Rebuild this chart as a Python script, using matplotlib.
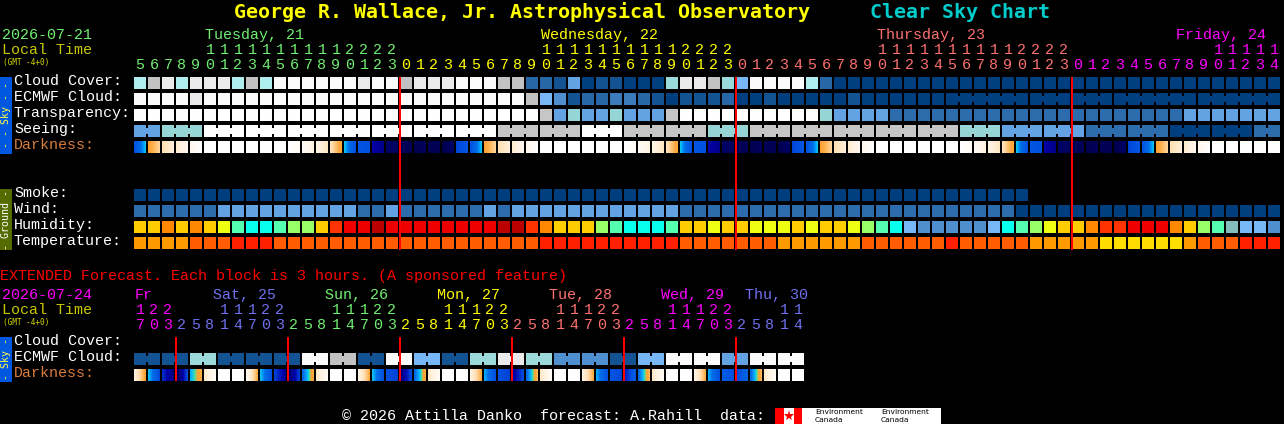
import numpy as np
import matplotlib
matplotlib.use('Agg')
import matplotlib.pyplot as plt
from matplotlib.colors import LinearSegmentedColormap

plt.rcParams['font.family'] = ['Liberation Mono', 'DejaVu Sans Mono']

# colour scales
cloud_colors = ['#003F7F', '#135393', '#2767A7', '#3B7BBB', '#4F8FCF', '#63A3E3',
                '#77B7F7', '#9ADADA', '#AEEEEE', '#C2C2C2', '#EAEAEA', '#FBFBFB']
sky_colors = ['#003F7F', '#2C6CAC', '#63A3E3', '#95D5D5', '#C6C6C6', '#FEFEFE']
wind_colors = ['#003F7F', '#2C6CAC', '#63A3E3']
hum_colors = ['#08FFEE', '#55FFB0', '#99FF66', '#EEFF11', '#FFCC00', '#FF8800', '#FF3300',
              '#EE0000', '#BB0000', '#4F8FCF', '#77B7F7', '#85BDBD']
temp_colors = ['#FFDD00', '#FF9900', '#FF5B00', '#FF2000']

# 82 hourly blocks, tuesday 05h to friday 14h
hours = [5, 6, 7, 8, 9, 10, 11, 12, 13, 14, 15, 16, 17, 18, 19, 20, 21, 22, 23,
         0, 1, 2, 3, 4, 5, 6, 7, 8, 9, 10, 11, 12, 13, 14, 15, 16, 17, 18, 19, 20, 21, 22, 23,
         0, 1, 2, 3, 4, 5, 6, 7, 8, 9, 10, 11, 12, 13, 14, 15, 16, 17, 18, 19, 20, 21, 22, 23,
         0, 1, 2, 3, 4, 5, 6, 7, 8, 9, 10, 11, 12, 13, 14]
day_runs = [19, 24, 24, 15]
day_cols = ['#70F070', '#FFFF00', '#FF7070', '#FF00FF']
day_names = ['Tuesday, 21', 'Wednesday, 22', 'Thursday, 23', 'Friday, 24']
day_name_cells = [5, 29, 53, 74]

cloud_cover = [8, 9, 10, 8, 10, 10, 10, 8, 9, 8, 11, 11, 11, 11, 11, 11, 10, 11, 11, 9, 10,
               10, 10, 11, 11, 11, 9, 9, 2, 2, 1, 5, 0, 1, 1, 0, 0, 0, 7, 10, 10, 9, 7,
               6, 11, 11, 11, 11, 8, 2, 0, 0, 0, 0, 0, 0, 0, 0, 0, 0, 0, 0, 0, 0, 0, 0, 0,
               0, 0, 0, 0, 0, 0, 0, 0, 0, 0, 0, 0, 0, 0, 0]
ecmwf_cloud = [11, 11, 11, 11, 10, 11, 11, 11, 11, 11, 11, 11, 11, 11, 11, 11, 11, 11, 11, 11, 11,
               11, 11, 11, 11, 11, 11, 11, 9, 6, 4, 1, 2, 2, 3, 3, 2, 1, 0, 1, 1, 1, 2,
               0, 0, 1, 0, 0, 0, 0, 0, 1, 0, 0, 0, 0, 0, 0, 0, 0, 0, 0, 0, 0, 0, 0, 0,
               0, 0, 0, 0, 0, 0, 0, 0, 0, 0, 0, 0, 0, 0, 0]
ecmwf_groups = [1] * 58 + [6, 3, 3, 6, 6]
transparency = [5, 5, 5, 5, 5, 5, 5, 5, 5, 5, 5, 5, 5, 5, 5, 5, 5, 5, 5, 5, 5,
                5, 5, 5, 5, 5, 5, 5, 5, 4, 2, 3, 2, 2, 3, 2, 2, 2, 4, 5, 5, 5, 5,
                5, 5, 5, 5, 5, 5, 3, 2, 2, 2, 2, 1, 1, 1, 1, 1, 1, 1, 1, 1, 1, 1, 1, 1,
                1, 1, 1, 1, 1, 1, 1, 1, 2, 2, 2, 2, 2, 2, 2]
seeing = [2, 2, 3, 3, 3, 5, 5, 5, 5, 5, 5, 5, 5, 5, 5, 5, 5, 5, 5, 5, 5,
          5, 5, 5, 5, 5, 4, 4, 4, 4, 4, 4, 5, 5, 5, 4, 4, 4, 4, 4, 4, 3, 3,
          3, 4, 4, 4, 4, 4, 4, 4, 4, 4, 4, 4, 4, 4, 4, 4, 3, 3, 3, 2, 2, 2, 2, 2,
          2, 1, 1, 1, 1, 1, 1, 0, 0, 0, 0, 0, 0, 1, 1]
seeing_groups = [2] + [3] * 26 + [2]
# darkness at the left and right side of each block, 0 = day, 1 = full night
dark_left = [.60, .33, .20, .14, .06, 0, 0, 0, 0, 0, 0, 0, .04, .09, .18, .40, .58, .72, .85,
             .90, .93, .92, .95, .62, .60, .33, .20, .14, .06, 0, 0, 0, 0, 0, 0, 0, .04, .09, .18,
             .40, .58, .72, .85, .90, .93, .92, .95, .62, .60, .33, .20, .14, .06, 0, 0, 0, 0,
             0, 0, 0, .04, .09, .18, .40, .58, .72, .85, .90, .93, .92, .95, .62, .60, .33, .20,
             .14, .06, 0, 0, 0, 0, 0]
dark_right = [.40, .22, .12, .07, .01, 0, 0, 0, 0, 0, 0, .04, .10, .16, .33, .60, .60, .78, .88,
              .92, .90, .92, .85, .58, .40, .22, .12, .07, .01, 0, 0, 0, 0, 0, 0, .04, .10, .16, .33,
              .60, .60, .78, .88, .92, .90, .92, .85, .58, .40, .22, .12, .07, .01, 0, 0, 0, 0,
              0, 0, .04, .10, .16, .33, .60, .60, .78, .88, .92, .90, .92, .85, .58, .40, .22, .12,
              .07, .01, 0, 0, 0, 0, 0]

smoke = [0] * 64
wind = [1, 1, 1, 1, 1, 1, 2, 2, 2, 2, 2, 2, 2, 2, 2, 2, 1, 1, 2, 1, 1,
        1, 1, 1, 1, 2, 1, 2, 2, 2, 2, 2, 2, 2, 2, 2, 2, 2, 2, 1, 1, 1, 1,
        1, 1, 1, 1, 1, 1, 1, 1, 1, 1, 1, 1, 1, 1, 1, 1, 1, 1, 1, 1, 0, 0, 0, 0,
        0, 0, 0, 0, 0, 0, 0, 0, 0, 0, 0, 0, 0, 0, 0]
humidity = [4, 4, 5, 4, 5, 4, 3, 1, 0, 0, 1, 2, 2, 4, 6, 7, 7, 8, 7, 7, 7,
            7, 7, 7, 7, 7, 8, 8, 6, 5, 4, 4, 4, 2, 1, 0, 0, 0, 1, 4, 4, 3, 4,
            4, 3, 3, 3, 4, 3, 4, 4, 3, 2, 1, 0, 10, 9, 9, 9, 9, 9, 10, 0, 1, 2, 3, 4,
            4, 5, 6, 6, 7, 7, 7, 5, 4, 2, 1, 11, 10, 10, 9]
temperature = [1, 1, 1, 1, 2, 2, 2, 3, 3, 3, 2, 2, 2, 2, 2, 2, 2, 2, 2, 2, 2,
               2, 2, 2, 2, 2, 2, 2, 2, 3, 3, 3, 3, 3, 3, 3, 3, 3, 3, 2, 2, 2, 2,
               2, 2, 2, 1, 1, 1, 1, 1, 1, 2, 2, 2, 2, 2, 2, 3, 2, 2, 2, 2, 2, 1, 1, 1,
               1, 1, 0, 0, 0, 0, 0, 0, 1, 2, 2, 2, 3, 3, 3]

# extended forecast, 48 blocks of 3 hours
ext_hours = [17, 20, 23, 2, 5, 8, 11, 14, 17, 20, 23, 2, 5, 8, 11, 14, 17, 20, 23,
             2, 5, 8, 11, 14, 17, 20, 23, 2, 5, 8, 11, 14, 17, 20, 23,
             2, 5, 8, 11, 14, 17, 20, 23, 2, 5, 8, 11, 14]
ext_day_runs = [3, 8, 8, 8, 8, 8, 5]
ext_day_cols = ['#FF00FF', '#7070F0', '#70F070', '#FFFF00', '#FF7070', '#FF00FF', '#7070F0']
ext_day_names = ['Fr', 'Sat, 25', 'Sun, 26', 'Mon, 27', 'Tue, 28', 'Wed, 29', 'Thu, 30']
ext_name_x = [135, 213, 325, 437, 549, 661, 745]
ext_ecmwf = [1, 1, 1, 1, 7, 7, 1, 1, 1, 1, 1, 1, 11, 11, 9, 9, 1, 1, 11, 11, 6, 6, 1, 1,
             7, 7, 10, 10, 7, 7, 4, 4, 4, 4, 1, 1, 6, 6, 11, 11, 11, 11, 5, 5, 11, 11, 11, 11]
ext_dark_left = [.10, .40, .65, .90, .42, .15, 0, 0, .05, .40, .62, .85, .50, .15, 0, 0,
                 .08, .40, .60, .80, .50, .15, 0, 0, .10, .42, .60, .75, .50, .15, 0, 0,
                 .10, .42, .58, .68, .50, .15, 0, 0, .08, .42, .55, .62, .50, .15, 0, 0]
ext_dark_right = [.33, .62, .80, .60, .30, .03, 0, 0, .30, .60, .75, .62, .30, .03, 0, 0,
                  .30, .60, .62, .60, .30, .03, 0, 0, .30, .60, .62, .60, .28, .02, 0, 0,
                  .30, .60, .62, .55, .28, .03, 0, 0, .30, .60, .60, .52, .28, .03, 0, 0]

# dusk to night colours
dark_cmap = LinearSegmentedColormap.from_list('dark', [
    (0, '#FFFFFF'), (.10, '#FFF3E2'), (.20, '#FFDFB0'), (.30, '#FFAA40'), (.34, '#FFA030'),
    (.37, '#50E0A0'), (.41, '#00B8FF'), (.48, '#0070E8'), (.60, '#0050E0'), (.72, '#0000A8'),
    (.85, '#000068'), (1, '#000040')])

X0 = 134
STEP = 14
SIZE = 12

fig = plt.figure(figsize=(12.84, 4.24), dpi=100, facecolor='black')
ax = fig.add_axes([0, 0, 1, 1])
ax.set_facecolor('black')
ax.axis('off')


def blocks(top, values, colors, groups=None):
    xs = X0 + STEP * np.arange(len(values))
    ax.bar(xs, SIZE, width=SIZE, bottom=top, align='edge', linewidth=0,
           color=[colors[v] for v in values], zorder=2)
    if groups is None:
        return
    # blocks of one group are joined by a thin bar
    start = 0
    for g in groups:
        for i in range(start, start + g - 1):
            ax.bar(xs[i] + SIZE, 6, width=STEP - SIZE, bottom=top + 3, align='edge', linewidth=0,
                   color=colors[values[i]], zorder=2)
        start += g


def dark_blocks(top, left, right):
    for i, (a, b) in enumerate(zip(left, right)):
        x = X0 + STEP * i
        ax.imshow(np.linspace(a, b, SIZE)[None, :], cmap=dark_cmap, vmin=0, vmax=1, aspect='auto',
                  interpolation='nearest', extent=(x, x + SIZE, top + SIZE, top), zorder=2)


def hour_labels(hrs, runs, cols, y_tens, y_units):
    cell_cols = np.repeat(cols, runs)
    for i, h in enumerate(hrs):
        x = X0 + STEP * i + 6
        if h >= 10:
            ax.text(x, y_tens, str(h // 10), color=cell_cols[i], fontsize=10.8, ha='center', va='center')
        ax.text(x, y_units, str(h % 10), color=cell_cols[i], fontsize=10.8, ha='center', va='center')


def label(x, y, s, color='white', size=10.8, **kw):
    ax.text(x, y, s, color=color, fontsize=size, ha='left', va='center', **kw)


# title
label(234, 12, 'George R. Wallace, Jr. Astrophysical Observatory', '#FFFF00', 14.4,
      fontweight='bold', family='DejaVu Sans Mono')
label(870, 12, 'Clear Sky Chart', '#00CCCC', 14.4, fontweight='bold', family='DejaVu Sans Mono')

# top header
label(2, 35, '2026-07-21', '#70F070')
label(2, 50, 'Local Time', '#C8C800')
label(3, 62, '(GMT -4+0)', '#D8D800', 5.6, family='DejaVu Sans Mono')
for name, cell, col in zip(day_names, day_name_cells, day_cols):
    x = X0 + STEP * cell + (1 if cell != 74 else 6)
    label(x, 35, name, col)
hour_labels(hours, day_runs, day_cols, 50, 65)

# sky rows
sky_rows = ['Cloud Cover:', 'ECMWF Cloud:', 'Transparency:', 'Seeing:']
for row, y in zip(sky_rows, [81, 97, 113, 129]):
    label(14, y, row)
label(14, 145, 'Darkness:', '#D87C3C')
blocks(77, cloud_cover, cloud_colors)
blocks(93, ecmwf_cloud, cloud_colors, ecmwf_groups)
blocks(109, transparency, sky_colors)
blocks(125, seeing, sky_colors, seeing_groups)
dark_blocks(141, dark_left, dark_right)

# ground rows
for row, y in zip(['Smoke:', 'Wind:', 'Humidity:', 'Temperature:'], [193, 209, 225, 241]):
    label(14, y, row)
blocks(189, smoke, wind_colors)
blocks(205, wind, wind_colors)
blocks(221, humidity, hum_colors)
blocks(237, temperature, temp_colors)

# side bars
ax.bar(0, 77, width=12, bottom=77, align='edge', color='#0058E0', linewidth=0)
ax.text(6, 115.5, '- - Sky - -', color='#FFFF40', fontsize=7.2, rotation=90, ha='center', va='center',
        family='DejaVu Sans Mono')
ax.bar(0, 61, width=12, bottom=189, align='edge', color='#556B00', linewidth=0)
ax.text(6, 219.5, '- Ground -', color='#FFFFFF', fontsize=7.2, rotation=90, ha='center', va='center',
        family='DejaVu Sans Mono')
ax.bar(0, 45, width=12, bottom=337, align='edge', color='#0058E0', linewidth=0)
ax.text(6, 359.5, '- Sky -', color='#FFFF40', fontsize=7.2, rotation=90, ha='center', va='center',
        family='DejaVu Sans Mono')

# midnight lines
for i in [19, 43, 67]:
    ax.bar(X0 + STEP * i - 1, 173, width=2, bottom=77, align='edge', color='#FF0000', linewidth=0, zorder=3)

# extended forecast
label(0, 276, 'EXTENDED Forecast. Each block is 3 hours. (A sponsored feature)', '#FF0000')
label(2, 295, '2026-07-24', '#FF00FF')
label(2, 310, 'Local Time', '#C8C800')
label(3, 322, '(GMT -4+0)', '#D8D800', 5.6, family='DejaVu Sans Mono')
for name, x, col in zip(ext_day_names, ext_name_x, ext_day_cols):
    label(x, 295, name, col)
hour_labels(ext_hours, ext_day_runs, ext_day_cols, 310, 325)
label(14, 341, 'Cloud Cover:')
label(14, 357, 'ECMWF Cloud:')
label(14, 373, 'Darkness:', '#D87C3C')
blocks(353, ext_ecmwf, cloud_colors, [2] * 24)
dark_blocks(369, ext_dark_left, ext_dark_right)
for i in [3, 11, 19, 27, 35, 43]:
    ax.bar(X0 + STEP * i - 1, 44, width=2, bottom=337, align='edge', color='#FF0000', linewidth=0, zorder=3)

# footer
label(342, 416, '\u00a9 2026 Attilla Danko  forecast: A.Rahill  data:')
ax.bar(775, 16, width=166, bottom=408, align='edge', color='white', linewidth=0)
ax.bar(775, 16, width=8.5, bottom=408, align='edge', color='#FF0000', linewidth=0, zorder=2)
ax.bar(793.5, 16, width=8.5, bottom=408, align='edge', color='#FF0000', linewidth=0, zorder=2)
ax.plot([788.5], [416], marker='*', ms=8, color='#FF0000', mew=0, zorder=2)
for x in [815, 881]:
    ax.text(x, 412, 'Environment', color='black', fontsize=5.4, family='DejaVu Sans', va='center', zorder=3)
    ax.text(x, 420, 'Canada', color='black', fontsize=5.4, family='DejaVu Sans', va='center', zorder=3)

ax.set_xlim(0, 1284)
ax.set_ylim(424, 0)
fig.savefig('out.png', dpi=100, facecolor='black')
